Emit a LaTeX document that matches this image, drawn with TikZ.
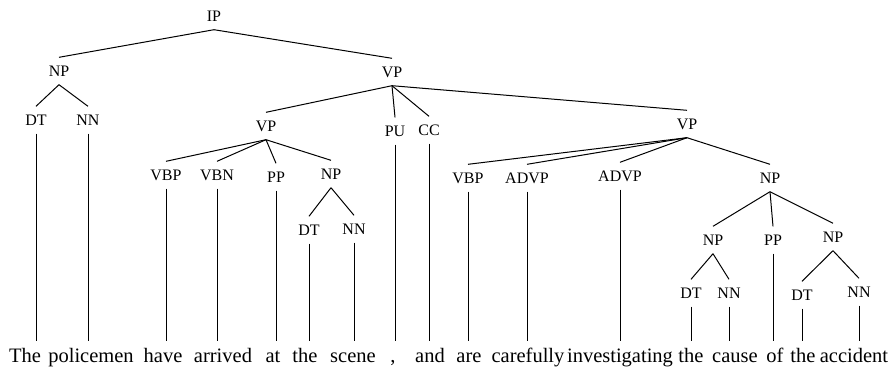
\documentclass[tikz,border=0pt]{standalone}
\usepackage{fontspec}
\setmainfont{Liberation Serif}
\usepackage{tikz}
\tikzstyle{tag} = [inner xsep=2pt, inner ysep=8pt, text height=11pt,
    text depth=0pt, font=\fontsize{16}{18}\selectfont]
\tikzstyle{word} = [anchor=base, inner xsep=0pt, inner ysep=5pt,
    text height=16pt, text depth=5pt, font=\fontsize{20.5}{24}\selectfont]
\tikzstyle{branch} = [line width=1pt]

\begin{document}
\begin{tikzpicture}[x=1pt, y=-1pt]
            \useasboundingbox (0,0) rectangle (892,368);
            % Tags
            \node[tag] (ip) at (214,16) {IP};
            \node[tag] (np1) at (59,71) {NP};
            \node[tag] (vp1) at (392,72) {VP};
            \node[tag] (dt1) at (36,120) {DT};
            \node[tag] (nn1) at (88,120) {NN};
            \node[tag] (vp2) at (266,126) {VP};
            \node[tag] (pu) at (395,131) {PU};
            \node[tag] (cc) at (429,130) {CC};
            \node[tag] (vp3) at (687,124) {VP};
            \node[tag] (vbp1) at (166,175) {VBP};
            \node[tag] (vbn) at (217,175) {VBN};
            \node[tag] (pp1) at (276,177) {PP};
            \node[tag] (np2) at (331,174) {NP};
            \node[tag] (vbp2) at (468,178) {VBP};
            \node[tag] (advp1) at (527,178) {ADVP};
            \node[tag] (advp2) at (620,176) {ADVP};
            \node[tag] (np3) at (770,178) {NP};
            \node[tag] (dt2) at (309,230) {DT};
            \node[tag] (nn2) at (354,229) {NN};
            \node[tag] (np4) at (713,240) {NP};
            \node[tag] (pp2) at (773,240) {PP};
            \node[tag] (np5) at (833,237) {NP};
            \node[tag] (dt3) at (691,293) {DT};
            \node[tag] (nn3) at (729,293) {NN};
            \node[tag] (dt4) at (802,295) {DT};
            \node[tag] (nn4) at (859,292) {NN};
            % Words
            \node[word] (the1) at (25,362) {The};
            \node[word] (policemen) at (91,362) {policemen};
            \node[word] (have) at (163,362) {have};
            \node[word] (arrived) at (223,362) {arrived};
            \node[word] (at) at (273,362) {at};
            \node[word] (the2) at (305,362) {the};
            \node[word] (scene) at (353,362) {scene};
            \node[word] (comma) at (393,362) {,};
            \node[word] (and) at (430,362) {and};
            \node[word] (are) at (469,362) {are};
            \node[word] (carefully) at (528,362) {carefully};
            \node[word] (investigating) at (620,362) {investigating};
            \node[word] (the3) at (691,362) {the};
            \node[word] (cause) at (735,362) {cause};
            \node[word] (of) at (775,362) {of};
            \node[word] (the4) at (803,362) {the};
            \node[word] (accident) at (854,362) {accident};
            % Branches
            \draw[branch] (ip.south) -- (np1.north);
            \draw[branch] (ip.south) -- (vp1.north);
            \draw[branch] (np1.south) -- (dt1.north);
            \draw[branch] (np1.south) -- (nn1.north);
            \draw[branch] (vp1.south) -- (vp2.north);
            \draw[branch] (vp1.south) -- (pu.north);
            \draw[branch] (vp1.south) -- (cc.north);
            \draw[branch] (vp1.south) -- (vp3.north);
            \draw[branch] (vp2.south) -- (vbp1.north);
            \draw[branch] (vp2.south) -- (vbn.north);
            \draw[branch] (vp2.south) -- (pp1.north);
            \draw[branch] (vp2.south) -- (np2.north);
            \draw[branch] (np2.south) -- (dt2.north);
            \draw[branch] (np2.south) -- (nn2.north);
            \draw[branch] (vp3.south) -- (vbp2.north);
            \draw[branch] (vp3.south) -- (advp1.north);
            \draw[branch] (vp3.south) -- (advp2.north);
            \draw[branch] (vp3.south) -- (np3.north);
            \draw[branch] (np3.south) -- (np4.north);
            \draw[branch] (np3.south) -- (pp2.north);
            \draw[branch] (np3.south) -- (np5.north);
            \draw[branch] (np4.south) -- (dt3.north);
            \draw[branch] (np4.south) -- (nn3.north);
            \draw[branch] (np5.south) -- (dt4.north);
            \draw[branch] (np5.south) -- (nn4.north);
            % Leaves
            \draw[branch] (dt1.south) -- (dt1.south |- the1.north);
            \draw[branch] (nn1.south) -- (nn1.south |- policemen.north);
            \draw[branch] (vbp1.south) -- (vbp1.south |- have.north);
            \draw[branch] (vbn.south) -- (vbn.south |- arrived.north);
            \draw[branch] (pp1.south) -- (pp1.south |- at.north);
            \draw[branch] (dt2.south) -- (dt2.south |- the2.north);
            \draw[branch] (nn2.south) -- (nn2.south |- scene.north);
            \draw[branch] (pu.south) -- (pu.south |- comma.north);
            \draw[branch] (cc.south) -- (cc.south |- and.north);
            \draw[branch] (vbp2.south) -- (vbp2.south |- are.north);
            \draw[branch] (advp1.south) -- (advp1.south |- carefully.north);
            \draw[branch] (advp2.south) -- (advp2.south |- investigating.north);
            \draw[branch] (dt3.south) -- (dt3.south |- the3.north);
            \draw[branch] (nn3.south) -- (nn3.south |- cause.north);
            \draw[branch] (pp2.south) -- (pp2.south |- of.north);
            \draw[branch] (dt4.south) -- (dt4.south |- the4.north);
            \draw[branch] (nn4.south) -- (nn4.south |- accident.north);
        \end{tikzpicture}
\end{document}
